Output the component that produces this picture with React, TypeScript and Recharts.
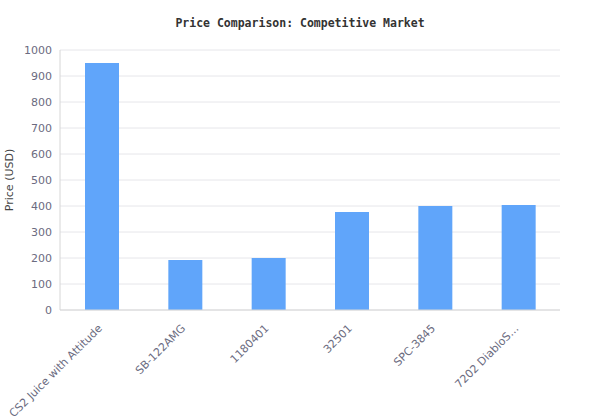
import { BarChart, Bar, XAxis, YAxis, CartesianGrid } from "recharts";

const products = [
  "CS2 Juice with Attitude",
  "SB-122AMG",
  "1180401",
  "32501",
  "SPC-3845",
  "7202 DiabloS…",
];
const prices = [950, 192, 200, 377, 400, 404];
const yTicks = [0, 100, 200, 300, 400, 500, 600, 700, 800, 900, 1000];

const data = products.map((name, i) => ({ name, price: prices[i] }));

function AngledTick(props: any) {
  const { x, y, payload } = props;
  return (
    <g transform={`translate(${x + 1},${y + 11}) rotate(-45)`}>
      <text
        x={0}
        y={0}
        textAnchor="end"
        fill="#6b6b80"
        fontSize={11}
        fontFamily="DejaVu Sans"
      >
        {payload.value}
      </text>
    </g>
  );
}

export default function App() {
  return (
    <div
      style={{
        position: "absolute",
        left: 0,
        top: 0,
        width: 600,
        height: 420,
        background: "#fff",
      }}
    >
      <div
        style={{
          position: "absolute",
          top: 16,
          left: 0,
          width: 600,
          textAlign: "center",
          fontFamily: "DejaVu Sans Mono",
          fontWeight: "bold",
          fontSize: 11.5,
          color: "#333",
        }}
      >
        Price Comparison: Competitive Market
      </div>
      <BarChart
        width={600}
        height={420}
        data={data}
        margin={{ top: 50, right: 40, left: 0, bottom: 0 }}
      >
        <CartesianGrid vertical={false} stroke="#e6e6ea" />
        <XAxis
          dataKey="name"
          interval={0}
          height={110}
          tickLine={false}
          stroke="#d6d6d6"
          tick={<AngledTick />}
        />
        <YAxis
          domain={[0, 1000]}
          ticks={yTicks}
          width={60}
          tickLine={false}
          stroke="#d6d6d6"
          tick={{ fill: "#6b6b80", fontSize: 11, fontFamily: "DejaVu Sans" }}
          label={{
            value: "Price (USD)",
            angle: -90,
            position: "insideLeft",
            dx: 4,
            style: {
              textAnchor: "middle",
              fill: "#444",
              fontSize: 11,
              fontFamily: "DejaVu Sans",
            },
          }}
        />
        <YAxis
          yAxisId="edge"
          orientation="right"
          width={0}
          tick={false}
          tickLine={false}
          stroke="#d6d6d6"
        />
        <Bar
          dataKey="price"
          fill="#60a5fa"
          barSize={34}
          isAnimationActive={false}
        />
      </BarChart>
    </div>
  );
}
